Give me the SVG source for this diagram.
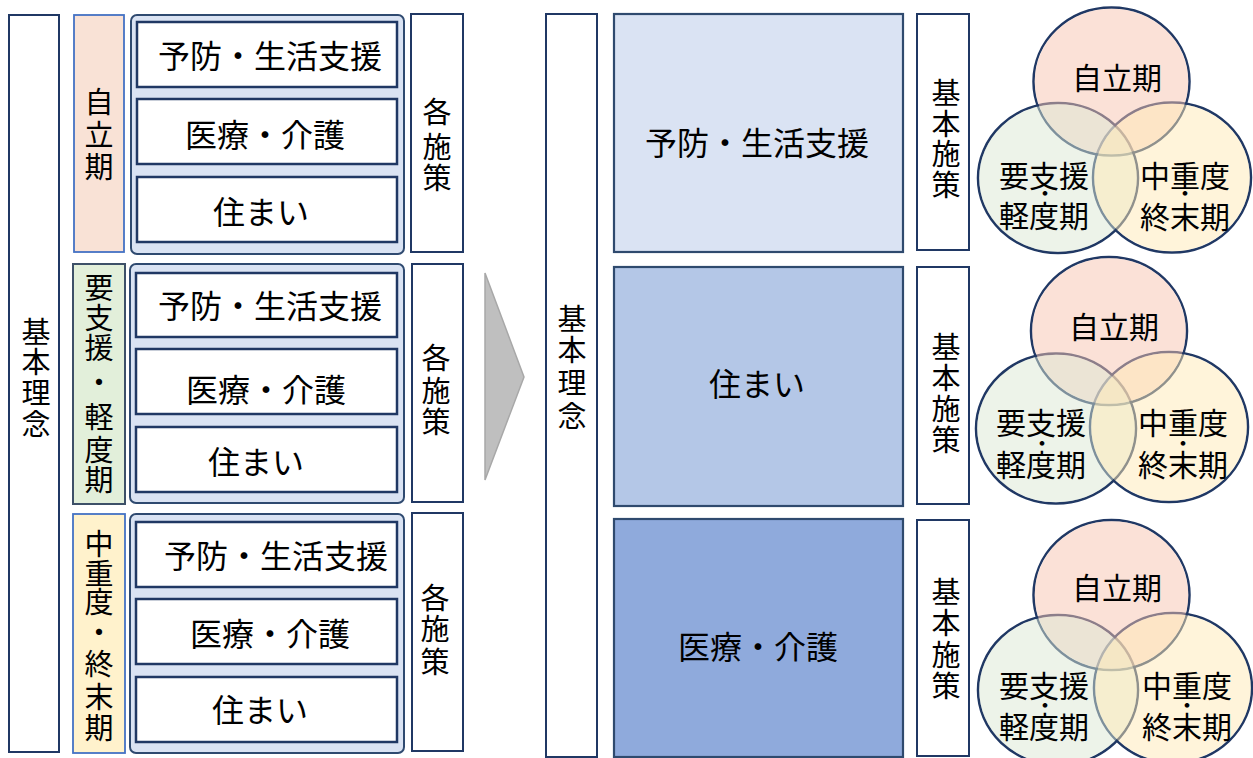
<svg xmlns="http://www.w3.org/2000/svg" width="1253" height="758" viewBox="0 0 1253 758">
<style>
.bar{fill:#fff;stroke:#203864;stroke-width:2}
.box{fill:#fff;stroke:#203864;stroke-width:2.5}
.grp{fill:#DAE3F3;stroke:#2F4A70;stroke-width:2}
.big{stroke:#2F4A6E;stroke-width:2.2}
.t{font-family:"Noto Sans CJK JP","Noto Sans CJK SC",sans-serif;font-size:32px;fill:#000;text-anchor:middle}
.tv{font-family:"Noto Sans CJK JP","Noto Sans CJK SC",sans-serif;font-size:29px;fill:#000;text-anchor:middle}
.tc{font-family:"Noto Sans CJK JP","Noto Sans CJK SC",sans-serif;font-size:30px;fill:#000;text-anchor:middle}
.dot{font-size:22px}
.ring{fill:none;stroke:#203864;stroke-width:2.5}
.fp{fill:#F7C3B0;fill-opacity:0.5}
.fg{fill:#DBE7D3;fill-opacity:0.5}
.fy{fill:#FFE9B5;fill-opacity:0.5}
</style>

<g id="left-kihon-rinen">
<rect class="bar" x="9" y="15" width="50" height="737"/>
<text class="tv"><tspan x="36" y="343">基</tspan><tspan x="36" y="373">本</tspan><tspan x="36" y="404">理</tspan><tspan x="36" y="435">念</tspan></text>
</g>

<g id="stage-jiritsu">
<rect x="74" y="15" width="50" height="237" fill="#F9E2D6" stroke="#4472C4" stroke-width="1.8"/>
<text class="tv"><tspan x="99" y="113">自</tspan><tspan x="99" y="146">立</tspan><tspan x="99" y="178">期</tspan></text>
</g>
<g id="group-1">
<rect class="grp" x="131" y="15" width="273" height="239" rx="6"/>
<rect class="box" x="137" y="22" width="260" height="65"/>
<text class="t" x="270" y="68">予防・生活支援</text>
<rect class="box" x="137" y="99" width="260" height="65"/>
<text class="t" x="265" y="147">医療・介護</text>
<rect class="box" x="137" y="177" width="260" height="65"/>
<text class="t" x="261" y="224">住まい</text>
</g>
<g id="measures-1">
<rect class="bar" x="411" y="14" width="52" height="238"/>
<text class="tv"><tspan x="437" y="123">各</tspan><tspan x="437" y="158">施</tspan><tspan x="437" y="189">策</tspan></text>
</g>

<g id="stage-yoshien">
<rect x="73" y="264" width="52" height="240" fill="#E2EFDA" stroke="#3D5068" stroke-width="2"/>
<text class="tv"><tspan x="99" y="299">要</tspan><tspan x="99" y="329">支</tspan><tspan x="99" y="359">援</tspan><tspan x="99" y="393">・</tspan><tspan x="99" y="428">軽</tspan><tspan x="99" y="461">度</tspan><tspan x="99" y="491">期</tspan></text>
</g>
<g id="group-2">
<rect class="grp" x="130" y="264" width="274" height="239" rx="6"/>
<rect class="box" x="136" y="273" width="261" height="64"/>
<text class="t" x="270" y="318">予防・生活支援</text>
<rect class="box" x="136" y="349" width="261" height="65"/>
<text class="t" x="266" y="402">医療・介護</text>
<rect class="box" x="136" y="427" width="261" height="65"/>
<text class="t" x="256" y="474">住まい</text>
</g>
<g id="measures-2">
<rect class="bar" x="412" y="264" width="51" height="238"/>
<text class="tv"><tspan x="436" y="369">各</tspan><tspan x="436" y="402">施</tspan><tspan x="436" y="433">策</tspan></text>
</g>

<g id="stage-chujudo">
<rect x="73" y="514" width="52" height="239" fill="#FFF2CC" stroke="#4472C4" stroke-width="1.8"/>
<text class="tv"><tspan x="99" y="555">中</tspan><tspan x="99" y="585">重</tspan><tspan x="99" y="613">度</tspan><tspan x="99" y="643">・</tspan><tspan x="99" y="675">終</tspan><tspan x="99" y="708">末</tspan><tspan x="99" y="739">期</tspan></text>
</g>
<g id="group-3">
<rect class="grp" x="130" y="514" width="274" height="239" rx="6"/>
<rect class="box" x="136" y="522" width="261" height="65"/>
<text class="t" x="276" y="568">予防・生活支援</text>
<rect class="box" x="136" y="599" width="261" height="65"/>
<text class="t" x="270" y="646">医療・介護</text>
<rect class="box" x="136" y="677" width="261" height="65"/>
<text class="t" x="260" y="722">住まい</text>
</g>
<g id="measures-3">
<rect class="bar" x="412" y="513" width="51" height="238"/>
<text class="tv"><tspan x="435" y="609">各</tspan><tspan x="435" y="640">施</tspan><tspan x="435" y="673">策</tspan></text>
</g>

<g id="connectors">
<polygon points="485,273 524,377 485,480" fill="#BFBFBF" stroke="#A8A8A8" stroke-width="1.5"/>
</g>

<g id="mid-kihon-rinen">
<rect class="bar" x="546" y="14" width="51" height="743"/>
<text class="tv"><tspan x="572" y="330">基</tspan><tspan x="572" y="361">本</tspan><tspan x="572" y="394">理</tspan><tspan x="572" y="427">念</tspan></text>
</g>

<g id="big-yobo">
<rect class="big" x="614" y="14" width="289" height="238" fill="#DAE3F3"/>
<text class="t" x="757" y="155">予防・生活支援</text>
</g>
<g id="big-sumai">
<rect class="big" x="614" y="267" width="289" height="239" fill="#B4C7E7"/>
<text class="t" x="757" y="396">住まい</text>
</g>
<g id="big-iryo">
<rect class="big" x="614" y="519" width="289" height="238" fill="#8FAADC"/>
<text class="t" x="758" y="659">医療・介護</text>
</g>

<g id="kihon-shisaku-1">
<rect class="bar" x="917" y="14" width="52" height="236"/>
<text class="tv"><tspan x="946" y="104">基</tspan><tspan x="946" y="135">本</tspan><tspan x="946" y="165">施</tspan><tspan x="946" y="196">策</tspan></text>
</g>
<g id="kihon-shisaku-2">
<rect class="bar" x="917" y="267" width="52" height="237"/>
<text class="tv"><tspan x="946" y="358">基</tspan><tspan x="946" y="389">本</tspan><tspan x="946" y="420">施</tspan><tspan x="946" y="451">策</tspan></text>
</g>
<g id="kihon-shisaku-3">
<rect class="bar" x="917" y="520" width="52" height="236"/>
<text class="tv"><tspan x="946" y="603">基</tspan><tspan x="946" y="634">本</tspan><tspan x="946" y="666">施</tspan><tspan x="946" y="697">策</tspan></text>
</g>

<g id="venn-1">
<ellipse class="ring" cx="1111.5" cy="81.5" rx="78" ry="74"/>
<ellipse class="ring" cx="1058" cy="178" rx="80" ry="75"/>
<ellipse class="ring" cx="1172" cy="177.5" rx="79" ry="75"/>
<ellipse class="fp" cx="1111.5" cy="81.5" rx="76.8" ry="72.8"/>
<ellipse class="fg" cx="1058" cy="178" rx="78.8" ry="73.8"/>
<ellipse class="fy" cx="1172" cy="177.5" rx="77.8" ry="73.8"/>
<text class="tc" x="1117" y="89">自立期</text>
<text class="tc"><tspan x="1044" y="187">要支援</tspan><tspan class="dot" x="1045" y="201">・</tspan><tspan x="1044" y="227">軽度期</tspan></text>
<text class="tc"><tspan x="1185" y="187">中重度</tspan><tspan class="dot" x="1185" y="201">・</tspan><tspan x="1185" y="228">終末期</tspan></text>
</g>

<g id="venn-2">
<ellipse class="ring" cx="1109" cy="331" rx="78" ry="74"/>
<ellipse class="ring" cx="1056" cy="428.5" rx="80" ry="75"/>
<ellipse class="ring" cx="1169" cy="427" rx="79" ry="75"/>
<ellipse class="fp" cx="1109" cy="331" rx="76.8" ry="72.8"/>
<ellipse class="fg" cx="1056" cy="428.5" rx="78.8" ry="73.8"/>
<ellipse class="fy" cx="1169" cy="427" rx="77.8" ry="73.8"/>
<text class="tc" x="1114" y="338">自立期</text>
<text class="tc"><tspan x="1041" y="434">要支援</tspan><tspan class="dot" x="1042" y="451">・</tspan><tspan x="1041" y="476">軽度期</tspan></text>
<text class="tc"><tspan x="1183" y="434">中重度</tspan><tspan class="dot" x="1183" y="451">・</tspan><tspan x="1183" y="476">終末期</tspan></text>
</g>

<g id="venn-3">
<ellipse class="ring" cx="1111.5" cy="595" rx="78" ry="75"/>
<ellipse class="ring" cx="1058" cy="690" rx="80" ry="75"/>
<ellipse class="ring" cx="1173" cy="688" rx="79" ry="75"/>
<ellipse class="fp" cx="1111.5" cy="595" rx="76.8" ry="73.8"/>
<ellipse class="fg" cx="1058" cy="690" rx="78.8" ry="73.8"/>
<ellipse class="fy" cx="1173" cy="688" rx="77.8" ry="73.8"/>
<text class="tc" x="1117" y="599">自立期</text>
<text class="tc"><tspan x="1044" y="697">要支援</tspan><tspan class="dot" x="1045" y="713">・</tspan><tspan x="1044" y="738">軽度期</tspan></text>
<text class="tc"><tspan x="1187" y="697">中重度</tspan><tspan class="dot" x="1187" y="713">・</tspan><tspan x="1187" y="738">終末期</tspan></text>
</g>
</svg>
